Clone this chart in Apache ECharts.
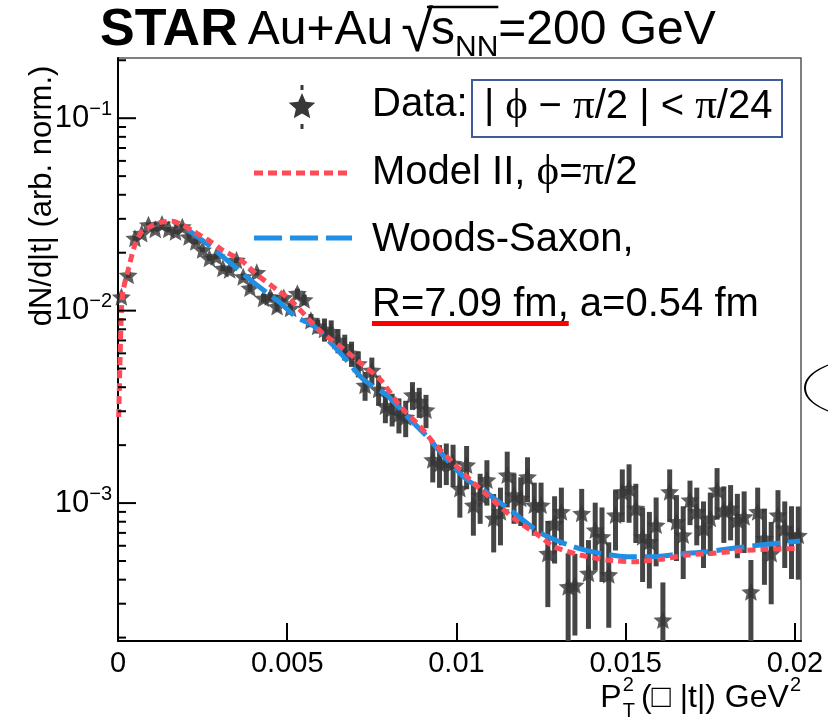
<!DOCTYPE html>
<html><head><meta charset="utf-8">
<script src="https://cdn.jsdelivr.net/npm/echarts@6/dist/echarts.min.js"></script>
<style>html,body{margin:0;padding:0;background:#fff}#c{width:828px;height:721px}</style>
</head><body><div id="c"></div>
<script>
// ---------------- data ----------------
const X_BINS = [0.0001,0.0003,0.0005,0.0007,0.0009,0.0011,0.0013,0.0015,0.0017,0.0019,
0.0021,0.0023,0.0025,0.0027,0.0029,0.0031,0.0033,0.0035,0.0037,0.0039,
0.0041,0.0043,0.0045,0.0047,0.0049,0.0051,0.0053,0.0055,0.0057,0.0059,
0.0061,0.0063,0.0065,0.0067,0.0069,0.0071,0.0073,0.0075,0.0077,0.0079,
0.0081,0.0083,0.0085,0.0087,0.0089,0.0091,0.0093,0.0095,0.0097,0.0099,
0.0101,0.0103,0.0105,0.0107,0.0109,0.0111,0.0113,0.0115,0.0117,0.0119,
0.0121,0.0123,0.0125,0.0127,0.0129,0.0131,0.0133,0.0135,0.0137,0.0139,
0.0141,0.0143,0.0145,0.0147,0.0149,0.0151,0.0153,0.0155,0.0157,0.0159,
0.0161,0.0163,0.0165,0.0167,0.0169,0.0171,0.0173,0.0175,0.0177,0.0179,
0.0181,0.0183,0.0185,0.0187,0.0189,0.0191,0.0193,0.0195,0.0197,0.0199,0.0201];
const DATA_Y = [0.0118,0.0153,0.0238,0.0252,0.0279,0.0265,0.0282,0.0265,0.0257,0.0273,
0.0242,0.0228,0.0207,0.0187,0.0191,0.0166,0.0163,0.0183,0.0150,0.0131,
0.0158,0.0116,0.0118,0.0105,0.0117,0.0103,0.0123,0.0114,0.0089,0.0083,
0.0080,0.0078,0.0070,0.0065,0.0060,0.0053,0.0041,0.0049,0.0039,0.0032,
0.0031,0.0029,0.0028,0.00365,0.00337,0.00305,0.00168,0.00160,0.00164,0.00161,
0.00119,0.00158,0.000977,0.00110,0.00132,0.000834,0.000903,0.00140,0.00110,0.00106,
0.00137,0.000977,0.000977,0.000548,0.000785,0.000903,0.000368,0.000375,0.000885,0.000432,
0.000725,0.000669,0.000425,0.000867,0.001146,0.00119,0.00094,0.000669,0.00063,0.000769,
0.000247,0.001146,0.0008,0.000683,0.001038,0.000903,0.00074,0.000834,0.00117,0.000921,
0.00094,0.000817,0.00085,0.000346,0.000903,0.000656,0.000548,0.000867,0.00074,0.000683,0.00068];
const DATA_ERR = [0.0004,0.0005,0.0007,0.0007,0.0008,0.0007,0.0008,0.0007,0.0007,0.0008,
0.0007,0.0007,0.0006,0.0006,0.0006,0.0006,0.0006,0.0006,0.0006,0.0006,
0.0006,0.0006,0.0006,0.0006,0.0006,0.0006,0.0007,0.0007,0.0007,0.0007,
0.0011,0.0011,0.0010,0.0010,0.0009,0.0008,0.0007,0.0008,0.0007,0.0006,
0.0006,0.0006,0.0006,0.0006,0.0006,0.0006,0.00040,0.00040,0.00040,0.00040,
0.00035,0.00040,0.00030,0.00032,0.00035,0.00028,0.00030,0.00045,0.00032,0.00030,
0.00036,0.0003,0.0003,0.00026,0.0003,0.0003,0.00018,0.00017,0.0003,0.00021,
0.00028,0.00028,0.0002,0.0003,0.00035,0.0004,0.00032,0.00028,0.00027,0.0003,
0.00014,0.00035,0.0003,0.00028,0.00027,0.0003,0.00028,0.0003,0.00035,0.0003,
0.0003,0.0003,0.0003,0.00016,0.0003,0.00028,0.00025,0.0003,0.00028,0.00028,0.00028];
const MODEL_X = [0.00002,0.0001,0.00015,0.0003,0.0005,0.0007,0.001,0.0013,0.0016,0.0019,0.00225,0.00274,0.00304,0.00368,0.00412,0.00471,0.00515,0.00599,0.00658,0.00717,0.00776,0.00835,0.00894,0.00933,0.00992,0.01051,0.01091,0.01169,0.01248,0.01287,0.01366,0.01445,0.01523,0.01602,0.01681,0.01759,0.01838,0.01917,0.02015];
const MODEL_Y = [0.0028,0.0100,0.0127,0.0163,0.0220,0.0257,0.0276,0.0289,0.0291,0.0279,0.0257,0.0228,0.0209,0.0180,0.0153,0.0128,0.0111,0.00778,0.0065,0.00533,0.00436,0.00317,0.00249,0.00205,0.00161,0.00127,0.00110,0.000834,0.000669,0.000594,0.000537,0.000506,0.000496,0.000510,0.000537,0.000548,0.000566,0.000575,0.000582];
const WS_X = [0.00206,0.00274,0.00333,0.00392,0.00442,0.00481,0.00525,0.00579,0.00658,0.00727,0.00796,0.00855,0.00914,0.00973,0.01032,0.0108,0.0111,0.01159,0.01248,0.01345,0.01425,0.01504,0.01582,0.01661,0.0174,0.01818,0.01897,0.02015];
const WS_Y = [0.0263,0.0215,0.0176,0.0144,0.0123,0.0109,0.0093,0.0083,0.0060,0.00436,0.00362,0.00281,0.00221,0.00167,0.00132,0.00117,0.00106,0.00092,0.00070,0.000594,0.000548,0.000526,0.000526,0.000544,0.000559,0.000582,0.000605,0.000635];
const X_TICKS = [0, 0.005, 0.01, 0.015, 0.02];
const X_TICK_LABELS = ['0', '0.005', '0.01', '0.015', '0.02'];
const Y_MAJOR = [0.001, 0.01, 0.1];
const Y_MINOR = [0.0002,0.0003,0.0004,0.0005,0.0006,0.0007,0.0008,0.0009,
0.002,0.003,0.004,0.005,0.006,0.007,0.008,0.009,
0.02,0.03,0.04,0.05,0.06,0.07,0.08,0.09,0.2];
const X_MIN = 0, X_MAX = 0.02018, Y_MIN = 1.92e-4, Y_MAX = 0.2055;

// ---------------- helpers ----------------
const SANS = '"Liberation Sans", Arial, sans-serif';
const SERIF = '"Liberation Serif", "DejaVu Serif", "Times New Roman", serif';
const STAR_PTS = [[0,-10],[2.7,-3.72],[9.51,-3.09],[4.37,1.42],[5.88,8.09],[0,4.6],[-5.88,8.09],[-4.37,1.42],[-9.51,-3.09],[-2.7,-3.72]];
const STAR_PATH = 'M' + STAR_PTS.map(p => p[0] + ',' + p[1]).join('L') + 'Z';
const mctx = document.createElement('canvas').getContext('2d');
function tw(t, f) { mctx.font = f; return mctx.measureText(t).width; }
const G = [];
function txt(text, font, x, y, extra) {
  G.push({type: 'text', x: x, y: y, z: 100,
    style: Object.assign({text: text, font: font, fill: '#000', align: 'left', verticalAlign: 'middle'}, extra || {})});
  return tw(text, font);
}

// title
(function () {
  let tx = 100; const ty = 31;
  tx += txt('STAR', 'bold 52px ' + SANS, tx, ty) + 10;
  tx += txt('Au+Au', '48px ' + SANS, tx, ty) + 8;
  tx += txt('\u221A', '58px ' + SANS, tx, ty + 4) - 2;
  const sX = tx;
  tx += txt('s', '48px ' + SANS, tx, ty);
  tx += txt('NN', '30px ' + SANS, tx, ty + 17);
  const barEnd = tx;
  tx += txt('=200 GeV', '48px ' + SANS, tx, ty);
  G.push({type: 'line', z: 100, shape: {x1: sX - 4, y1: 7, x2: barEnd, y2: 7}, style: {stroke: '#000', lineWidth: 2.5}});
})();

// legend
const LF = 40;
G.push({type: 'polygon', z: 100, x: 302, y: 107, scaleX: 1.4, scaleY: 1.4, shape: {points: STAR_PTS}, style: {fill: '#383838'}});
G.push({type: 'rect', z: 100, shape: {x: 300.5, y: 85, width: 3, height: 5}, style: {fill: '#383838'}});
G.push({type: 'rect', z: 100, shape: {x: 300.5, y: 124, width: 3, height: 5}, style: {fill: '#383838'}});
txt('Data:', LF + 'px ' + SANS, 372, 105);
G.push({type: 'rect', z: 99, shape: {x: 472, y: 80, width: 310, height: 57}, style: {fill: '#fff', stroke: '#3f5b99', lineWidth: 2}});
const RICH = {
  n: {fontSize: LF, fontFamily: SANS, fill: '#000'},
  g: {fontSize: LF + 3, fontFamily: SERIF, fill: '#000'}
};
G.push({type: 'text', z: 101, x: 484, y: 107, style: {text: '{n||}{g| \u03D5 }{n|\u2212 }{g|\u03C0}{n|/2 | < }{g|\u03C0}{n|/24}', rich: RICH, align: 'left', verticalAlign: 'middle'}});
G.push({type: 'line', z: 100, shape: {x1: 254, y1: 173, x2: 350, y2: 173}, style: {stroke: '#ff4b57', lineWidth: 5, lineDash: [9, 5]}});
G.push({type: 'text', z: 101, x: 372, y: 173, style: {text: '{n|Model II, }{g|\u03D5}{n|=}{g|\u03C0}{n|/2}', rich: RICH, align: 'left', verticalAlign: 'middle'}});
G.push({type: 'line', z: 100, shape: {x1: 254, y1: 238, x2: 352, y2: 238}, style: {stroke: '#1f8fe5', lineWidth: 5, lineDash: [28, 8]}});
txt('Woods-Saxon,', LF + 'px ' + SANS, 372, 240);
txt('R=7.09 fm, a=0.54 fm', LF + 'px ' + SANS, 372, 305);
G.push({type: 'rect', z: 100, shape: {x: 372, y: 321, width: tw('R=7.09 fm,', LF + 'px ' + SANS), height: 5}, style: {fill: '#ff0000'}});

// axis titles
G.push({type: 'text', z: 100, x: 42, y: 196, rotation: Math.PI / 2,
  style: {text: 'dN/d|t| (arb. norm.)', font: '31px ' + SANS, fill: '#000', align: 'center', verticalAlign: 'middle'}});
(function () {
  const f = '32px ' + SANS, fs = '20px ' + SANS;
  const right = 801, ty = 698;
  const w2 = tw('2', fs);
  txt('2', fs, right - w2, ty - 13);
  const main = '(\u25A1 |t|) GeV';
  const wm = tw(main, f);
  const mx = right - w2 - 1 - wm;
  txt(main, f, mx, ty);
  const wT = Math.max(tw('T', fs), tw('2', fs));
  txt('2', fs, mx - 6 - wT, ty - 13);
  txt('T', fs, mx - 6 - wT, ty + 13);
  const wP = tw('P', f);
  txt('P', f, mx - 6 - wT - wP - 1, ty);
})();
// partial ellipse at right edge
G.push({type: 'arc', z: 100, x: 870, y: 388, scaleY: 0.46, shape: {cx: 0, cy: 0, r: 65, startAngle: 0, endAngle: Math.PI * 2},
  style: {fill: 'none', stroke: '#000', lineWidth: 2, strokeNoScale: true}});

// ---------------- chart ----------------
const chart = echarts.init(document.getElementById('c'));
const tickSeries = (vals, len) => ({
  type: 'custom', silent: true, z: 20, clip: false,
  data: vals.map(v => [X_MIN, v]),
  renderItem: (params, api) => {
    const p = api.coord([api.value(0), api.value(1)]);
    return {type: 'line', shape: {x1: p[0], y1: p[1], x2: p[0] + len, y2: p[1]}, style: {stroke: '#000', lineWidth: 2}};
  }
});
chart.setOption({
  animation: false,
  backgroundColor: '#fff',
  grid: {left: 118, right: 27, top: 58, bottom: 80, show: true, borderColor: '#555', borderWidth: 1.5, backgroundColor: 'transparent'},
  xAxis: {
    type: 'value', min: X_MIN, max: X_MAX, interval: 0.005,
    axisLine: {lineStyle: {color: '#000', width: 2}},
    axisTick: {inside: true, length: 18, lineStyle: {color: '#000', width: 2}},
    splitLine: {show: false},
    axisLabel: {
      color: '#000', fontSize: 29, fontFamily: SANS, margin: 8, showMaxLabel: false,
      formatter: v => { const i = X_TICKS.findIndex(t => Math.abs(t - v) < 1e-9); return i >= 0 ? X_TICK_LABELS[i] : ''; }
    }
  },
  yAxis: {
    type: 'log', logBase: 10, min: Y_MIN, max: Y_MAX,
    axisLine: {show: true, lineStyle: {color: '#000', width: 2}},
    axisTick: {show: false}, splitLine: {show: false}, minorTick: {show: false},
    axisLabel: {
      margin: 6, showMinLabel: false, showMaxLabel: false,
      formatter: v => { const e = Math.log10(v), r = Math.round(e); if (Math.abs(e - r) > 1e-6) return ''; return '{b|10}{s|\u2212' + Math.abs(r) + '}'; },
      rich: {
        b: {fontSize: 31, fontFamily: SANS, color: '#000', lineHeight: 38},
        s: {fontSize: 20, fontFamily: SANS, color: '#000', lineHeight: 18, verticalAlign: 'top'}
      }
    }
  },
  series: [
    tickSeries(Y_MAJOR, 18),
    tickSeries(Y_MINOR, 8),
    {
      type: 'custom', name: 'err', z: 2, silent: true,
      data: X_BINS.map((x, i) => [x, DATA_Y[i], DATA_ERR[i]]),
      renderItem: (params, api) => {
        const x = api.value(0), y = api.value(1), e = api.value(2);
        const cs = params.coordSys;
        const p1 = api.coord([x, y + e]);
        const p2 = api.coord([x, Math.max(y - e, Y_MIN)]);
        const top = Math.max(p1[1], cs.y), bot = Math.min(p2[1], cs.y + cs.height);
        return {type: 'rect', shape: {x: p1[0] - 2.5, y: top, width: 5, height: Math.max(0, bot - top)}, style: {fill: '#454545'}};
      }
    },
    {
      type: 'scatter', name: 'Data', z: 3,
      symbol: 'path://' + STAR_PATH, symbolSize: 19, symbolKeepAspect: true,
      itemStyle: {color: '#363636'},
      data: X_BINS.map((x, i) => [x, DATA_Y[i]])
    },
    {
      type: 'line', name: 'Woods-Saxon', z: 4, showSymbol: false, smooth: 0.25,
      lineStyle: {color: '#1f8fe5', width: 5, type: [28, 8]},
      data: WS_X.map((x, i) => [x, WS_Y[i]])
    },
    {
      type: 'line', name: 'Model II', z: 5, showSymbol: false, smooth: 0.25,
      lineStyle: {color: '#ff4b57', width: 5, type: [8, 5]},
      data: MODEL_X.map((x, i) => [x, MODEL_Y[i]])
    }
  ],
  graphic: G
});
</script></body></html>
